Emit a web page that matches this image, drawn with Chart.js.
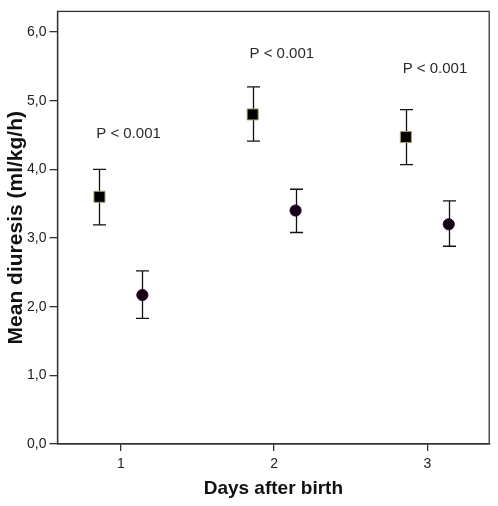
<!DOCTYPE html>
<html>
<head>
<meta charset="utf-8">
<script src="https://cdn.jsdelivr.net/npm/chart.js@4.4.1/dist/chart.umd.min.js"></script>
<style>
  html,body{margin:0;padding:0;background:#fff;}
  #wrap{width:498px;height:506px;}
</style>
</head>
<body>
<div id="wrap"><canvas id="chart" width="498" height="506"></canvas></div>
<script>
// values
const days = [1, 2, 3];
const sqMean = [3.60, 4.80, 4.47];
const sqLow  = [3.19, 4.41, 4.07];
const sqHigh = [4.00, 5.20, 4.87];
const ciMean = [2.17, 3.40, 3.20];
const ciLow  = [1.83, 3.08, 2.88];
const ciHigh = [2.52, 3.71, 3.54];
const pText  = ["P < 0.001", "P < 0.001", "P < 0.001"];
const pLevel = [4.51, 5.68, 5.46];
const yTicks = [0, 1, 2, 3, 4, 5, 6];

const shift = 0.14; // groups drawn side by side around each day
const FONT = "'Liberation Sans', Arial, sans-serif";

function pts(means, lo, hi, d){
  return days.map((x,i)=>({x:x+d, y:means[i], lo:lo[i], hi:hi[i]}));
}

const errorBars = {
  id:"errorBars",
  beforeDatasetsDraw(chart){
    const {ctx, scales:{x,y}} = chart;
    ctx.save();
    ctx.strokeStyle = "#111";
    ctx.lineWidth = 1.3;
    chart.data.datasets.forEach(ds=>{
      ds.data.forEach(p=>{
        const px = Math.round(x.getPixelForValue(p.x))+0.5;
        const t = y.getPixelForValue(p.hi), b = y.getPixelForValue(p.lo);
        ctx.beginPath();
        ctx.moveTo(px,t); ctx.lineTo(px,b);
        ctx.moveTo(px-6.5,t); ctx.lineTo(px+6.5,t);
        ctx.moveTo(px-6.5,b); ctx.lineTo(px+6.5,b);
        ctx.stroke();
      });
    });
    ctx.restore();
  },
  afterDraw(chart){
    const {ctx, chartArea:a, scales:{x,y}} = chart;
    ctx.save();
    ctx.strokeStyle = "#333";
    ctx.lineWidth = 1.3;
    ctx.strokeRect(a.left, a.top, a.right-a.left, a.bottom-a.top);
    ctx.fillStyle = "#2a2a2a";
    ctx.font = "15px " + FONT;
    ctx.textAlign = "center";
    ctx.textBaseline = "middle";
    pText.forEach((t,i)=>{
      ctx.fillText(t, x.getPixelForValue(days[i]+0.05), y.getPixelForValue(pLevel[i]));
    });
    ctx.restore();
  }
};

new Chart(document.getElementById("chart"),{
  type:"scatter",
  data:{
    datasets:[
      { label:"A", data:pts(sqMean,sqLow,sqHigh,-shift),
        pointStyle:"rect", pointRadius:7.8, backgroundColor:"#000", borderColor:"#a69f6a", borderWidth:1 },
      { label:"B", data:pts(ciMean,ciLow,ciHigh,shift),
        pointStyle:"circle", pointRadius:5.6, backgroundColor:"#100010", borderColor:"#3a003a", borderWidth:1 }
    ]
  },
  options:{
    responsive:false,
    animation:false,
    layout:{padding:{top:5, right:6, left:0, bottom:0}},
    plugins:{legend:{display:false}, tooltip:{enabled:false}},
    scales:{
      x:{
        type:"linear", min:0.586, max:3.404,
        afterBuildTicks(s){ s.ticks = days.map(v=>({value:v})); },
        afterFit(s){ s.height = 62; },
        grid:{display:true, drawOnChartArea:false, drawTicks:true, tickLength:7, color:"#333", lineWidth:1.3},
        border:{display:true, color:"#333", width:1.3},
        ticks:{color:"#222", padding:5, font:{family:FONT, size:14}},
        title:{display:true, text:"Days after birth", color:"#111", padding:{top:6, bottom:6},
          font:{family:FONT, size:19, weight:"bold"}}
      },
      y:{
        type:"linear", min:0, max:6.3,
        afterBuildTicks(s){ s.ticks = yTicks.map(v=>({value:v})); },
        afterFit(s){ s.width = 57.5; },
        grid:{display:true, drawOnChartArea:false, drawTicks:true, tickLength:8, color:"#333", lineWidth:1.3},
        border:{display:true, color:"#333", width:1.3},
        ticks:{color:"#222", padding:3, font:{family:FONT, size:14},
          callback:v=>v.toFixed(1).replace(".", ",")},
        title:{display:true, text:"Mean diuresis (ml/kg/h)", color:"#111", padding:{top:3.5, bottom:3.5},
          font:{family:FONT, size:21, weight:"bold"}}
      }
    }
  },
  plugins:[errorBars]
});
</script>
</body>
</html>
